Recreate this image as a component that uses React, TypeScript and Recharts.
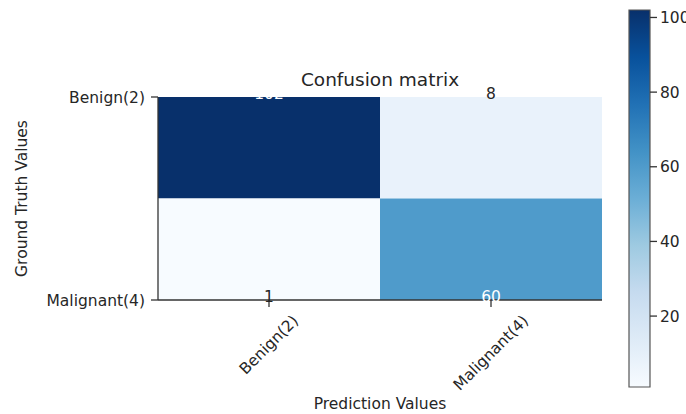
import React from 'react';
import { ComposedChart, BarChart, Bar, Scatter, XAxis, YAxis, Cell, Label } from 'recharts';

// Class names shared by both axes
const classLabels = ['Benign(2)', 'Malignant(4)'];
// Confusion-matrix rows (ground truth); each entry is the count per predicted class
const benignTruthCounts = [102, 8];
const malignantTruthCounts = [1, 60];
// Colour-bar tick values
const colorbarTicks = [20, 40, 60, 80, 100];

const FONT = '"DejaVu Sans", Verdana, sans-serif';
const TEXT = '#262626';
const SPINE = '#333333';
const TICK_FS = 15.5;

// Matplotlib "Blues" colormap anchors
const BLUES = ['#f7fbff', '#deebf7', '#c6dbef', '#9ecae1', '#6baed6', '#4292c6', '#2171b5', '#08519c', '#08306b'];

const hexToRgb = (h: string) => [1, 3, 5].map((i) => parseInt(h.slice(i, i + 2), 16));

function blues(t: number): string {
  const c = Math.max(0, Math.min(1, t)) * (BLUES.length - 1);
  const i = Math.min(BLUES.length - 2, Math.floor(c));
  const f = c - i;
  const a = hexToRgb(BLUES[i]);
  const b = hexToRgb(BLUES[i + 1]);
  const rgb = a.map((v, k) => Math.round(v + (b[k] - v) * f));
  return `rgb(${rgb[0]},${rgb[1]},${rgb[2]})`;
}

const allCounts = [...benignTruthCounts, ...malignantTruthCounts];
const minCount = Math.min(...allCounts);
const maxCount = Math.max(...allCounts);
const countColor = (v: number) => blues((v - minCount) / (maxCount - minCount));

// Row centres sit at i + 0.5; the view spans first row centre to last row centre
const rowTicks = classLabels.map((_, i) => i + 0.5);
const rowDomain = [rowTicks[0], rowTicks[rowTicks.length - 1]];

// One entry per predicted class; each truth row is a band of unit height stacked in order
const cellData = classLabels.map((pred, j) => ({
  pred,
  benign: benignTruthCounts[j],
  malignant: malignantTruthCounts[j],
  benignBand: 1,
  malignantBand: 1,
  benignCenter: rowTicks[0],
  malignantCenter: rowTicks[1],
}));

const colorbarData = [{ name: 'scale', range: [minCount, maxCount] }];

let measureCtx: CanvasRenderingContext2D | null = null;
function textWidth(s: string, size: number): number {
  if (!measureCtx) {
    measureCtx = document.createElement('canvas').getContext('2d');
  }
  if (!measureCtx) return s.length * size * 0.6;
  measureCtx.font = `${size}px "DejaVu Sans"`;
  return measureCtx.measureText(s).width;
}

// Rotated (45°) tick label centred under its tick
const RotatedTick = (props: any) => {
  const { x, y, payload } = props;
  const label = String(payload.value);
  const w = textWidth(label, TICK_FS);
  const ext = (w + TICK_FS * 0.75) * Math.SQRT1_2;
  const cy = y + ext / 2;
  return (
    <text
      x={x}
      y={cy}
      transform={`rotate(-45 ${x} ${cy})`}
      textAnchor="middle"
      dominantBaseline="central"
      fontSize={TICK_FS}
      fill={TEXT}
      fontFamily={FONT}
    >
      {label}
    </text>
  );
};

// Count annotation drawn at the centre of each matrix cell
const countShape = (field: 'benign' | 'malignant') => (props: any) => {
  const { cx, cy, payload } = props;
  const value = Number(payload[field]);
  return (
    <text
      x={cx}
      y={cy + 2}
      textAnchor="middle"
      fontSize={TICK_FS}
      fontFamily={FONT}
      fill={value > maxCount / 2 ? '#ffffff' : TEXT}
    >
      {value}
    </text>
  );
};

const renderYLabel = (props: any) => {
  const vb = props.viewBox || {};
  const x = Number(vb.x) + 22;
  const y = Number(vb.y) + Number(vb.height) / 2;
  return (
    <text
      x={x}
      y={y}
      transform={`rotate(-90 ${x} ${y})`}
      textAnchor="middle"
      dominantBaseline="central"
      fontSize={TICK_FS}
      fontFamily={FONT}
      fill={TEXT}
    >
      Ground Truth Values
    </text>
  );
};

export default function App() {
  return (
    <div style={{ position: 'absolute', left: 0, top: 0, width: 686, height: 414, background: '#fff', fontFamily: FONT }}>
      <div
        style={{
          position: 'absolute',
          left: 158,
          width: 444,
          top: 70,
          textAlign: 'center',
          fontSize: 18.5,
          lineHeight: '20px',
          color: TEXT,
          whiteSpace: 'nowrap',
        }}
      >
        Confusion matrix
      </div>
      <ComposedChart
        width={686}
        height={414}
        data={cellData}
        margin={{ top: 97, right: 84, bottom: 0, left: 0 }}
        barCategoryGap={0}
        barGap={0}
        style={{ position: 'absolute', left: 0, top: 0 }}
      >
        <XAxis
          dataKey="pred"
          type="category"
          height={114}
          tickSize={7}
          tickMargin={7}
          tick={<RotatedTick />}
          tickLine={{ stroke: SPINE, strokeWidth: 1.3 }}
          axisLine={{ stroke: SPINE, strokeWidth: 1.3 }}
        >
          <Label value="Prediction Values" position="insideBottom" offset={5} fontSize={TICK_FS} fill={TEXT} />
        </XAxis>
        <XAxis
          xAxisId="top"
          dataKey="pred"
          type="category"
          orientation="top"
          height={0}
          tick={false}
          tickLine={false}
          axisLine={{ stroke: SPINE, strokeWidth: 1.3 }}
        />
        <YAxis
          type="number"
          domain={rowDomain}
          ticks={rowTicks}
          reversed
          allowDataOverflow
          width={158}
          tickSize={7}
          tickMargin={6}
          tickFormatter={(v: number) => classLabels[Math.floor(v)]}
          tick={{ fontSize: TICK_FS, fill: TEXT }}
          tickLine={{ stroke: SPINE, strokeWidth: 1.3 }}
          axisLine={{ stroke: SPINE, strokeWidth: 1.3 }}
        >
          <Label content={renderYLabel} />
        </YAxis>
        <YAxis
          yAxisId="right"
          type="number"
          orientation="right"
          domain={rowDomain}
          reversed
          width={0}
          tick={false}
          tickLine={false}
          axisLine={{ stroke: SPINE, strokeWidth: 1.3 }}
        />
        <Bar dataKey="benignBand" stackId="cm" isAnimationActive={false}>
          {cellData.map((d) => (
            <Cell key={`b-${d.pred}`} fill={countColor(d.benign)} />
          ))}
        </Bar>
        <Bar dataKey="malignantBand" stackId="cm" isAnimationActive={false}>
          {cellData.map((d) => (
            <Cell key={`m-${d.pred}`} fill={countColor(d.malignant)} />
          ))}
        </Bar>
        <Scatter yAxisId="right" dataKey="benignCenter" shape={countShape('benign')} isAnimationActive={false} />
        <Scatter yAxisId="right" dataKey="malignantCenter" shape={countShape('malignant')} isAnimationActive={false} />
      </ComposedChart>

      <div style={{ position: 'absolute', left: 600, top: 0 }}>
        <BarChart
          width={86}
          height={414}
          data={colorbarData}
          margin={{ top: 10, right: 0, bottom: 27, left: 29 }}
          barCategoryGap={0}
        >
          <defs>
            <linearGradient id="bluesScale" x1="0" y1="1" x2="0" y2="0">
              {BLUES.map((c, i) => (
                <stop key={c} offset={`${(i / (BLUES.length - 1)) * 100}%`} stopColor={c} />
              ))}
            </linearGradient>
          </defs>
          <XAxis dataKey="name" hide />
          <YAxis
            type="number"
            orientation="right"
            domain={[minCount, maxCount]}
            ticks={colorbarTicks}
            width={36}
            tickSize={7}
            tickMargin={3}
            axisLine={false}
            tick={{ fontSize: TICK_FS, fill: TEXT, textAnchor: 'start' }}
            tickLine={{ stroke: SPINE, strokeWidth: 1.3 }}
          />
          <Bar dataKey="range" fill="url(#bluesScale)" stroke="#555" strokeWidth={1.2} isAnimationActive={false} />
        </BarChart>
      </div>
    </div>
  );
}
